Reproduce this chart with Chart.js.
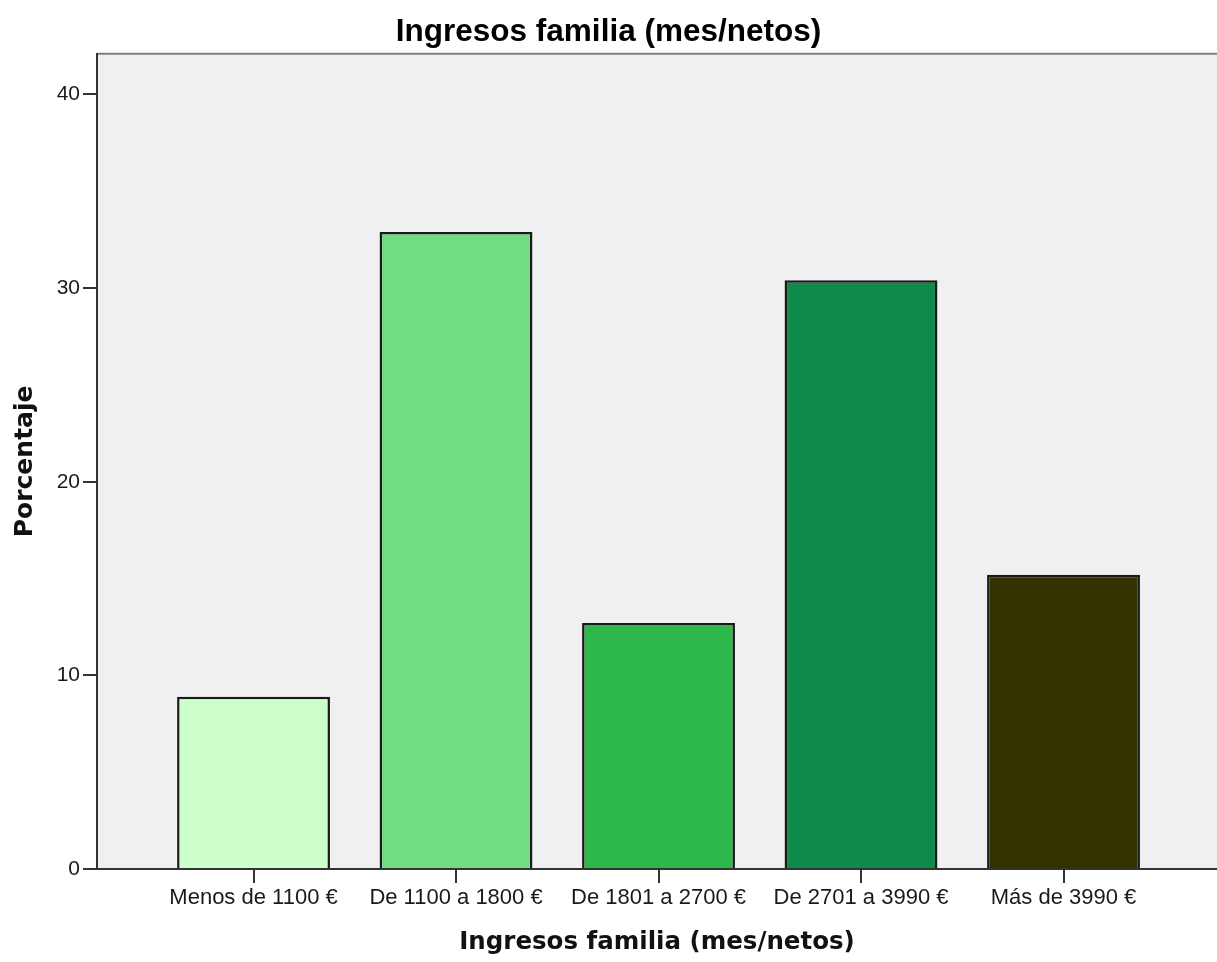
<!DOCTYPE html>
<html>
<head>
<meta charset="utf-8">
<script src="https://cdn.jsdelivr.net/npm/chart.js@4"></script>
<style>
  body { margin: 0; background: #fff; }
  canvas { display: block; }
</style>
</head>
<body>
<canvas id="incomeChart" width="1217" height="962"></canvas>
<script>
const categories = ["Menos de 1100 €", "De 1100 a 1800 €", "De 1801 a 2700 €", "De 2701 a 3990 €", "Más de 3990 €"];
const percentages = [8.9, 32.9, 12.7, 30.4, 15.2];
const barColors = ["#ccffcc", "#70dc84", "#2eb84a", "#0f8a4a", "#333300"];
const yTicks = [0, 10, 20, 30, 40];

const chartTitle = "Ingresos familia (mes/netos)";
const xTitle = "Ingresos familia (mes/netos)";
const yTitle = "Porcentaje";

// grey plot panel with a thin grey top edge
const plotBackground = {
  id: "plotBackground",
  beforeDraw(chart) {
    const { ctx, chartArea } = chart;
    ctx.save();
    ctx.fillStyle = "#f0f0f0";
    ctx.fillRect(chartArea.left, chartArea.top, chartArea.right - chartArea.left, chartArea.bottom - chartArea.top);
    ctx.strokeStyle = "#7f7f7f";
    ctx.lineWidth = 2;
    ctx.beginPath();
    ctx.moveTo(chartArea.left, chartArea.top);
    ctx.lineTo(chartArea.right, chartArea.top);
    ctx.stroke();
    ctx.restore();
  }
};

const ctx = document.getElementById("incomeChart").getContext("2d");

new Chart(ctx, {
  type: "bar",
  data: {
    datasets: [
      {
        data: percentages.map((v, i) => ({ x: i, y: v })),
        backgroundColor: barColors,
        borderColor: "#1a1a1a",
        borderWidth: 2.5,
        barPercentage: 0.755,
        categoryPercentage: 1
      }
    ]
  },
  options: {
    responsive: false,
    animation: false,
    devicePixelRatio: 1,
    layout: { padding: 0 },
    plugins: {
      legend: { display: false },
      tooltip: { enabled: false },
      title: {
        display: true,
        text: chartTitle,
        color: "#000",
        font: { family: "'Liberation Sans', Arial, sans-serif", size: 31.5, weight: "bold" },
        padding: { top: 13, bottom: 3 }
      }
    },
    scales: {
      x: {
        type: "linear",
        min: -0.773,
        max: 4.758,
        offset: false,
        afterBuildTicks: (scale) => {
          scale.ticks = categories.map((_, i) => ({ value: i }));
        },
        afterFit: (scale) => {
          scale.height = 93;
        },
        ticks: {
          autoSkip: false,
          maxRotation: 0,
          padding: 2,
          color: "#1a1a1a",
          font: { family: "'Liberation Sans', Arial, sans-serif", size: 22 },
          callback: (value) => categories[value]
        },
        grid: {
          offset: false,
          drawOnChartArea: false,
          drawTicks: true,
          tickLength: 14,
          color: "#333",
          lineWidth: 2
        },
        border: { display: true, color: "#333", width: 2 },
        title: {
          display: true,
          text: xTitle,
          color: "#111",
          font: { family: "'DejaVu Sans', Verdana, sans-serif", size: 24.5, weight: "bold" },
          padding: { top: 0, bottom: 5 }
        }
      },
      y: {
        min: 0,
        max: 42.1,
        afterBuildTicks: (scale) => {
          scale.ticks = yTicks.map((v) => ({ value: v }));
        },
        afterFit: (scale) => {
          scale.width = 97;
        },
        ticks: {
          padding: 3,
          color: "#1a1a1a",
          font: { family: "'Liberation Sans', Arial, sans-serif", size: 21 }
        },
        grid: {
          drawOnChartArea: false,
          drawTicks: true,
          tickLength: 14,
          color: "#333",
          lineWidth: 2
        },
        border: { display: true, color: "#333", width: 2 },
        title: {
          display: true,
          text: yTitle,
          color: "#111",
          font: { family: "'DejaVu Sans', Verdana, sans-serif", size: 25, weight: "bold" },
          padding: { top: 10, bottom: 0 }
        }
      }
    }
  },
  plugins: [plotBackground]
});
</script>
</body>
</html>
